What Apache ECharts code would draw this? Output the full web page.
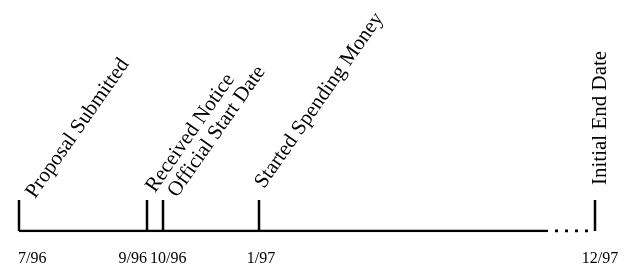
<!DOCTYPE html>
<html>
<head>
<meta charset="utf-8">
<script src="https://cdn.jsdelivr.net/npm/echarts@6/dist/echarts.min.js"></script>
<style>
  html, body { margin: 0; padding: 0; background: #fff; }
  #chart { width: 641px; height: 270px; }
</style>
</head>
<body>
<div id="chart"></div>
<script>
// timeline milestones (positions along the drawn, not-to-scale timeline)
const eventPos = [0, 128, 144, 240, 576];
const eventNames = ['Proposal Submitted', 'Received Notice', 'Official Start Date', 'Started Spending Money', 'Initial End Date'];
const dateLabels = ['7/96', '9/96', '10/96', '1/97', '12/97'];
// where the solid line stops and the dotted gap begins
const solidEnd = 529;
const timelineEnd = 576;

// label placement (style only)
const nameAngle = [55, 55, 55, 55, 90];
const nameNudge = [[20, 2], [12, -4], [18, 1], [9, -8], [16, -15]];
const dateAlign = ['left', 'right', 'left', 'center', 'center'];
const dateNudge = [-1, 0, -13, 2, 5];

const FONT = '"Liberation Serif", "Times New Roman", serif';

const chart = echarts.init(document.getElementById('chart'));

const option = {
  animation: false,
  grid: { left: 19, right: 46, top: 200, bottom: 39 },
  xAxis: { type: 'value', min: 0, max: timelineEnd, show: false },
  yAxis: { type: 'value', min: 0, max: 1, show: false },
  series: [
    {
      type: 'line',
      silent: true,
      symbol: 'none',
      data: [[0, 0], [solidEnd, 0]],
      lineStyle: { color: '#000', width: 2.5 }
    },
    {
      type: 'line',
      silent: true,
      symbol: 'none',
      data: [[solidEnd, 0], [timelineEnd, 0]],
      lineStyle: { color: '#000', width: 3, type: [3, 7], dashOffset: 3, cap: 'butt' }
    },
    {
      type: 'custom',
      silent: true,
      data: eventPos.map((p, i) => [p, i]),
      renderItem: function (params, api) {
        const i = api.value(1);
        const base = api.coord([api.value(0), 0]);
        const top = api.coord([api.value(0), 1]);
        const nudge = nameNudge[i];
        return {
          type: 'group',
          children: [
            {
              type: 'line',
              shape: { x1: base[0], y1: base[1], x2: top[0], y2: top[1] },
              style: { stroke: '#000', lineWidth: 2.5 }
            },
            {
              type: 'text',
              x: top[0] + nudge[0],
              y: top[1] + nudge[1],
              rotation: nameAngle[i] * Math.PI / 180,
              style: {
                text: eventNames[i],
                fontFamily: FONT,
                fontSize: 21,
                fill: '#000',
                align: 'left',
                verticalAlign: 'bottom'
              }
            },
            {
              type: 'text',
              x: base[0] + dateNudge[i],
              y: base[1] + 28,
              style: {
                text: dateLabels[i],
                fontFamily: FONT,
                fontSize: 16,
                fill: '#000',
                align: dateAlign[i],
                verticalAlign: 'middle'
              }
            }
          ]
        };
      }
    }
  ]
};

chart.setOption(option);
</script>
</body>
</html>
